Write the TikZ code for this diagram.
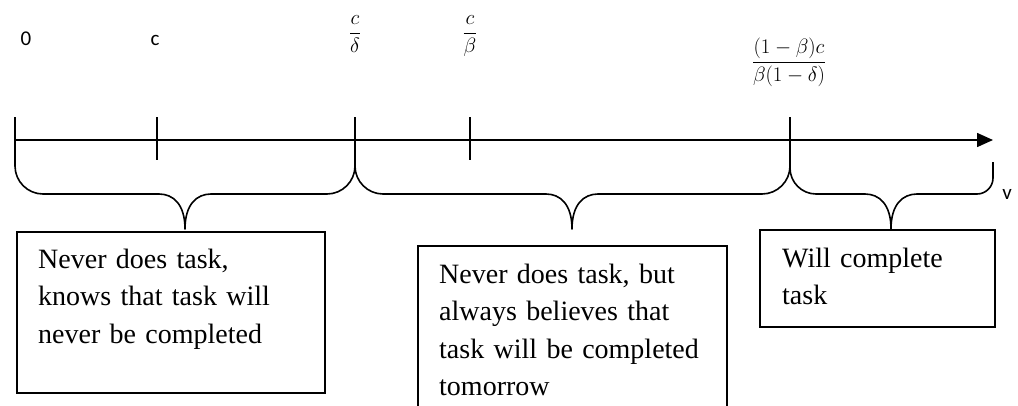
\documentclass[tikz,border=0pt]{standalone}
\usepackage{fontspec}
\usetikzlibrary{arrows.meta}
\newfontfamily\lblfont{Carlito}
\newfontfamily\boxfont{Liberation Serif}
\tikzset{
  ln/.style={line width=1.6pt, line join=round},
  tickline/.style={line width=1.6pt},
  boxline/.style={line width=1.6pt},
  boxtext/.style={anchor=base west, inner sep=0pt, text width=300pt, align=left,
     font=\boxfont\fontsize{28}{37.5}\selectfont},
  lbl/.style={inner sep=0pt, font=\lblfont\fontsize{21}{25}\selectfont},
  fraclbl/.style={inner sep=0pt, anchor=base, font=\fontsize{22}{26}\selectfont},
}
\newcommand\mybrace[5]{%
 \draw[ln] (#1,162) -- (#1,{194-#4}) .. controls (#1,{194-0.45*#4}) and ({#1+0.45*#4},194) .. ({#1+#4},194)
   -- ({#2-26},194) .. controls ({#2-12},194) and (#2,204) .. (#2,229)
   .. controls (#2,204) and ({#2+12},194) .. ({#2+26},194)
   -- ({#3-#5},194) .. controls ({#3-0.45*#5},194) and (#3,{194-0.45*#5}) .. (#3,{194-#5}) -- (#3,162);}
\begin{document}
\begin{tikzpicture}[x=1pt,y=-1pt]
\useasboundingbox (0,0) rectangle (1018,405);
\clip (0,0) rectangle (1018,405);
% labels
\node[lbl, anchor=base] (l0) at (26,45) {0};
\node[lbl, anchor=base] (lc) at (155,45) {c};
\node[fraclbl] (lcd) at (355,38.5) {$\displaystyle\frac{c}{\delta}$};
\node[fraclbl] (lcb) at (470,38.5) {$\displaystyle\frac{c}{\beta}$};
\node[fraclbl] (lbig) at (789,67.5) {$\displaystyle\frac{(1-\beta)c}{\beta(1-\delta)}$};
\node[lbl, anchor=base] (lv) at (1007,199) {v};
% axis
\coordinate (a0) at (15,140);
\coordinate (a1) at (993,140);
\draw[ln, -{Triangle[length=16pt,width=14pt]}] (a0) -- (a1);
% ticks
\draw[tickline] (15,117) -- (15,162);
\draw[tickline] (157,117) -- (157,160);
\draw[tickline] (355,117) -- (355,162);
\draw[tickline] (470,117) -- (470,160);
\draw[tickline] (790,117) -- (790,162);
% braces
\mybrace{15}{185}{355}{28}{28}
\mybrace{355}{572}{790}{28}{28}
\mybrace{790}{891}{993}{26}{16}
% boxes
\draw[boxline] (17,232) rectangle (325,393);
\draw[boxline] (418,246) rectangle (727,430);
\draw[boxline] (760,230) rectangle (995,327);
\node[boxtext] (t1) at (38,268) {Never does task,\\knows that task will\\never be completed};
\node[boxtext] (t2) at (439,283) {Never does task, but\\always believes that\\task will be completed\\tomorrow};
\node[boxtext] (t3) at (782,267) {Will complete\\task};
\end{tikzpicture}
\end{document}
